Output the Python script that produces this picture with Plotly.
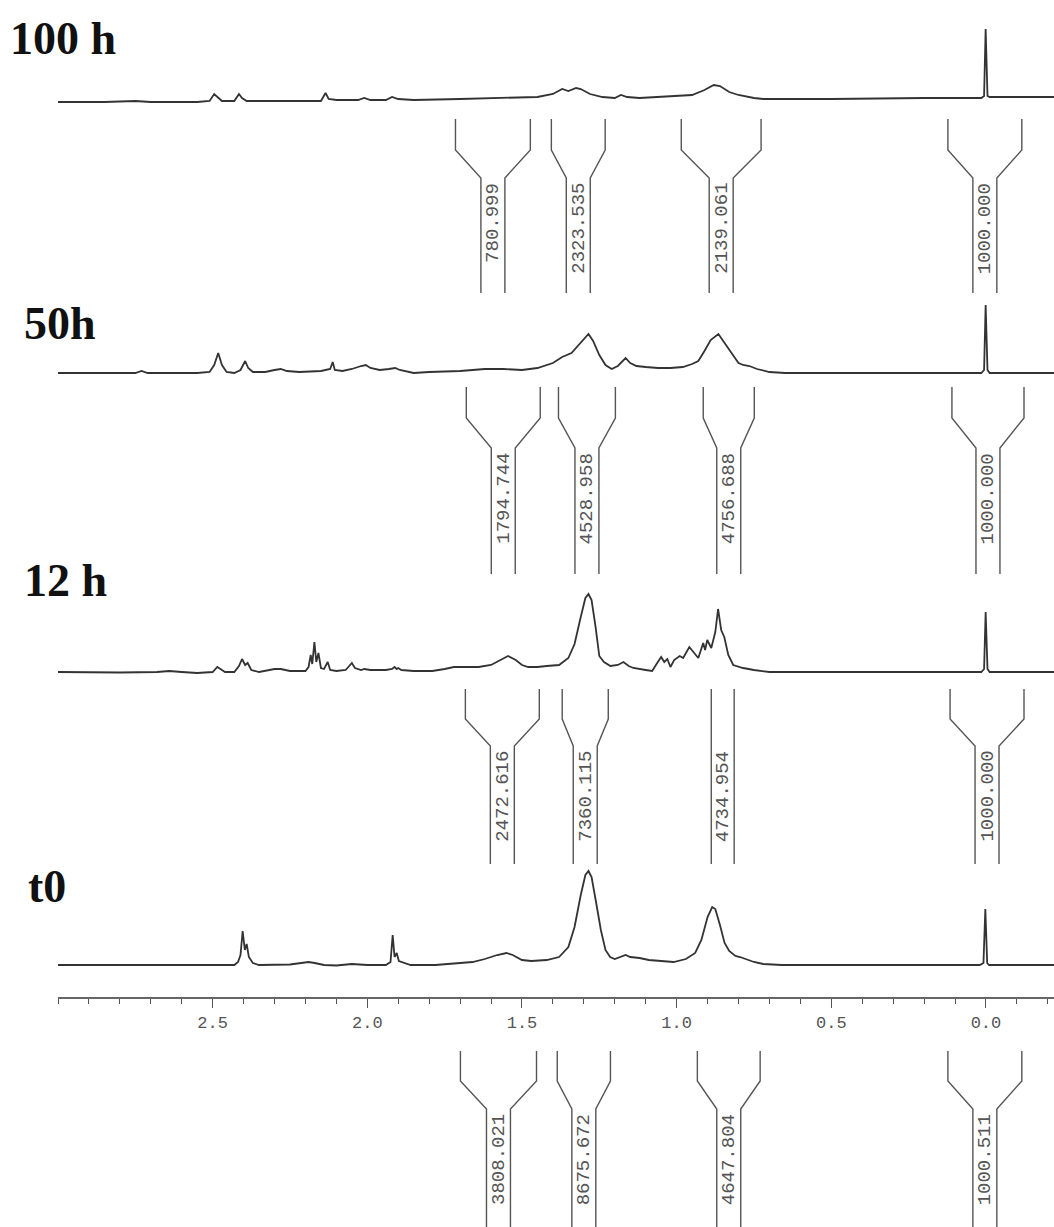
import plotly.graph_objects as go

# sample names, top to bottom
labels = ["100 h", "50h", "12 h", "t0"]

# spectra as (ppm, intensity above baseline) points
ppm_100h = [3.00, 2.85, 2.75, 2.70, 2.55, 2.51, 2.495, 2.485, 2.47, 2.43, 2.415, 2.405, 2.39, 2.25,
            2.15, 2.135, 2.125, 2.10, 2.03, 2.01, 1.99, 1.94, 1.92, 1.90, 1.85, 1.70, 1.55, 1.45,
            1.40, 1.37, 1.35, 1.325, 1.31, 1.28, 1.24, 1.20, 1.18, 1.16, 1.12, 1.05, 0.95, 0.91,
            0.88, 0.86, 0.83, 0.80, 0.75, 0.72, 0.50, 0.20, 0.015, 0.006, 0.001, -0.005, -0.012, -0.22]
int_100h = [-2, -2, -1, -2, -2, -1, 6, 3, -1, -1, 6, 2, -1, -1,
            -1, 7, 1, 0, 0, 2, 0, 0, 3, 1, 0, 1, 2, 3,
            6, 11, 9, 12, 11, 6, 3, 2, 5, 3, 2, 3, 5, 10,
            15, 14, 8, 5, 2, 1, 1, 2, 2, 4, 71, 4, 3, 3]

ppm_50h = [3.00, 2.75, 2.73, 2.71, 2.55, 2.51, 2.495, 2.482, 2.47, 2.455, 2.43, 2.41, 2.395, 2.385,
           2.37, 2.33, 2.30, 2.28, 2.26, 2.22, 2.15, 2.12, 2.112, 2.105, 2.08, 2.05, 2.02, 2.005,
           1.99, 1.96, 1.93, 1.91, 1.895, 1.88, 1.85, 1.80, 1.70, 1.62, 1.56, 1.50, 1.45, 1.40,
           1.37, 1.34, 1.31, 1.285, 1.27, 1.25, 1.23, 1.21, 1.19, 1.165, 1.15, 1.13, 1.10, 1.06,
           1.02, 0.98, 0.95, 0.93, 0.91, 0.89, 0.865, 0.845, 0.82, 0.80, 0.785, 0.765, 0.74, 0.70,
           0.65, 0.30, 0.015, 0.006, 0.001, -0.005, -0.012, -0.22]
int_50h = [0, 0, 2, 0, 0, 1, 8, 20, 8, 1, 0, 3, 12, 5,
           1, 1, 3, 4, 2, 1, 2, 4, 11, 3, 2, 4, 7, 8,
           5, 3, 4, 5, 3, 2, 0, 1, 2, 4, 4, 3, 5, 10,
           16, 20, 30, 39, 32, 18, 8, 4, 7, 15, 10, 7, 6, 5,
           5, 6, 9, 12, 22, 33, 39, 30, 18, 10, 8, 7, 4, 1,
           0, 0, 0, 3, 68, 3, 0, 0]

ppm_12h = [3.00, 2.80, 2.68, 2.64, 2.60, 2.55, 2.50, 2.485, 2.475, 2.46, 2.43, 2.415, 2.405, 2.395,
           2.387, 2.375, 2.35, 2.30, 2.28, 2.25, 2.20, 2.19, 2.183, 2.178, 2.171, 2.165, 2.158, 2.150,
           2.14, 2.128, 2.12, 2.10, 2.07, 2.05, 2.04, 2.02, 2.01, 1.99, 1.94, 1.92, 1.912, 1.905,
           1.90, 1.89, 1.85, 1.79, 1.75, 1.72, 1.68, 1.64, 1.60, 1.57, 1.545, 1.52, 1.50, 1.48,
           1.45, 1.42, 1.38, 1.35, 1.33, 1.31, 1.295, 1.285, 1.275, 1.262, 1.25, 1.235, 1.214, 1.19,
           1.172, 1.155, 1.14, 1.10, 1.079, 1.063, 1.05, 1.04, 1.03, 1.02, 1.008, 0.99, 0.979, 0.959,
           0.946, 0.930, 0.914, 0.908, 0.901, 0.888, 0.875, 0.866, 0.856, 0.846, 0.833, 0.817, 0.785, 0.75,
           0.70, 0.30, 0.015, 0.006, 0.001, -0.005, -0.012, -0.22]
int_12h = [0, -0.5, 0, 1, 0, -1, 0, 5, 3, 0, 0, 6, 13, 7,
           9, 2, 0, 3, 3, 1, 1, 5, 17, 8, 30, 10, 19, 4,
           3, 10, 2, 1, 2, 9, 4, 2, 3, 2, 2, 3, 5, 3,
           4, 2, 1, 1, 3, 5, 5, 5, 7, 12, 16, 12, 7, 5,
           5, 6, 7, 14, 28, 55, 74, 78, 72, 45, 16, 10, 6, 7,
           10, 6, 4, 2, 1, 9, 15, 10, 13, 5, 12, 16, 14, 25,
           20, 14, 29, 22, 32, 24, 40, 63, 42, 35, 17, 7, 4, 2,
           0, 0, 0, 3, 60, 3, 0, 0]

ppm_t0 = [3.00, 2.75, 2.55, 2.43, 2.418, 2.41, 2.403, 2.396, 2.390, 2.383, 2.37, 2.35, 2.25, 2.22,
          2.19, 2.17, 2.14, 2.10, 2.05, 2.00, 1.94, 1.925, 1.918, 1.912, 1.905, 1.898, 1.88, 1.86,
          1.78, 1.70, 1.66, 1.62, 1.58, 1.55, 1.53, 1.50, 1.47, 1.42, 1.38, 1.35, 1.33, 1.31,
          1.295, 1.285, 1.275, 1.26, 1.245, 1.23, 1.215, 1.20, 1.18, 1.165, 1.15, 1.12, 1.09, 1.05,
          1.01, 0.97, 0.94, 0.92, 0.90, 0.885, 0.875, 0.86, 0.845, 0.83, 0.81, 0.795, 0.77, 0.75,
          0.72, 0.66, 0.30, 0.02, 0.008, 0.002, -0.004, -0.01, -0.22]
int_t0 = [0, 0, 0.5, 0, 3, 10, 34, 15, 21, 8, 2, 0, 0.5, 2,
          3, 2, 0, -0.5, 1, 0, 0, 3, 30, 8, 12, 4, 2, 0,
          0, 2, 3, 6, 10, 12, 10, 5, 4, 5, 8, 18, 38, 70,
          90, 94, 88, 62, 35, 15, 8, 6, 8, 10, 8, 7, 5, 4,
          3, 6, 12, 25, 48, 58, 56, 40, 22, 14, 9, 8, 5, 3,
          1, 0, 0, 0, 2, 56, 2, 0, 0]

# integral regions (ppm edges) and printed integrals
reg_hi_100h = [1.715, 1.405, 0.985, 0.123]
reg_lo_100h = [1.473, 1.231, 0.727, -0.116]
val_100h = ["780.999", "2323.535", "2139.061", "1000.000"]

reg_hi_50h = [1.680, 1.382, 0.914, 0.110]
reg_lo_50h = [1.441, 1.198, 0.749, -0.123]
val_50h = ["1794.744", "4528.958", "4756.688", "1000.000"]

reg_hi_12h = [1.683, 1.370, 0.888, 0.116]
reg_lo_12h = [1.444, 1.221, 0.814, -0.123]
val_12h = ["2472.616", "7360.115", "4734.954", "1000.000"]

reg_hi_t0 = [1.699, 1.386, 0.933, 0.123]
reg_lo_t0 = [1.453, 1.214, 0.730, -0.116]
val_t0 = ["3808.021", "8675.672", "4647.804", "1000.511"]

ppm_ticks = [2.5, 2.0, 1.5, 1.0, 0.5, 0.0]
tick_text = ["2.5", "2.0", "1.5", "1.0", "0.5", "0.0"]

W, H = 1054, 1227
ink = "#333333"
grey = "#555555"

# layout per row: baseline, label pos, bracket levels (top, kink, stem start, bottom) in px
rows = [
    dict(x=ppm_100h, y=int_100h, base=100, lab=(8, 38), br=(119, 150, 178, 293),
         hi=reg_hi_100h, lo=reg_lo_100h, val=val_100h),
    dict(x=ppm_50h, y=int_50h, base=373, lab=(22, 323), br=(387, 418, 448, 574),
         hi=reg_hi_50h, lo=reg_lo_50h, val=val_50h),
    dict(x=ppm_12h, y=int_12h, base=672, lab=(22, 580), br=(689, 719, 746, 864),
         hi=reg_hi_12h, lo=reg_lo_12h, val=val_12h),
    dict(x=ppm_t0, y=int_t0, base=965, lab=(26, 886), br=(1051, 1081, 1109, 1240),
         hi=reg_hi_t0, lo=reg_lo_t0, val=val_t0),
]
stem = 0.0775  # ppm width of the bracket stem

fig = go.Figure()
annotations = []
for name, r in zip(labels, rows):
    fig.add_trace(go.Scatter(x=r["x"], y=[r["base"] - v for v in r["y"]], mode="lines",
                             line=dict(color=ink, width=1.8), hoverinfo="skip"))
    top, k1, k2, bot = r["br"]
    bx, by = [], []
    for hi, lo, val in zip(r["hi"], r["lo"], r["val"]):
        c = (hi + lo) / 2
        if hi - lo <= stem + 0.005:
            bx += [hi, hi, None, lo, lo, None]
            by += [top, bot, None, top, bot, None]
        else:
            bx += [hi, hi, c + stem / 2, c + stem / 2, None, lo, lo, c - stem / 2, c - stem / 2, None]
            by += [top, k1, k2, bot, None, top, k1, k2, bot, None]
        annotations.append(dict(x=c, y=k2 + 3, xref="x", yref="y", text=val, showarrow=False,
                                textangle=-90, xanchor="center", yanchor="top",
                                font=dict(family="Liberation Mono", size=19, color=grey)))
    fig.add_trace(go.Scatter(x=bx, y=by, mode="lines", line=dict(color=grey, width=1.4),
                             hoverinfo="skip", connectgaps=False))
    annotations.append(dict(x=r["lab"][0] / W, y=r["lab"][1], xref="paper", yref="y", text=name,
                            showarrow=False, xanchor="left", yanchor="middle",
                            font=dict(family="Liberation Serif", size=46, color="#111111",
                                      weight="bold")))

fig.update_layout(
    width=W, height=H, margin=dict(l=0, r=0, t=0, b=0),
    paper_bgcolor="white", plot_bgcolor="white", showlegend=False,
    annotations=annotations,
    xaxis=dict(domain=[58 / W, 1], range=[3.0, -0.22], anchor="free", position=1 - 998 / H,
               showgrid=False, zeroline=False, showline=True, linecolor="#666666", linewidth=2,
               ticks="outside", ticklen=9, tickwidth=1.3, tickcolor=grey,
               tickvals=ppm_ticks, ticktext=tick_text,
               tickfont=dict(family="Liberation Mono", size=17, color=grey),
               minor=dict(dtick=0.1, tick0=0, ticks="outside", ticklen=5, tickcolor=grey,
                          tickwidth=1)),
    yaxis=dict(domain=[0, 1], range=[H, 0], visible=False, showgrid=False, zeroline=False),
)

# drop the page's default body margin so the chart sits at the window's corner
fig.write_html("out.html", config={"displayModeBar": False},
               post_script="document.body.style.margin='0';")
